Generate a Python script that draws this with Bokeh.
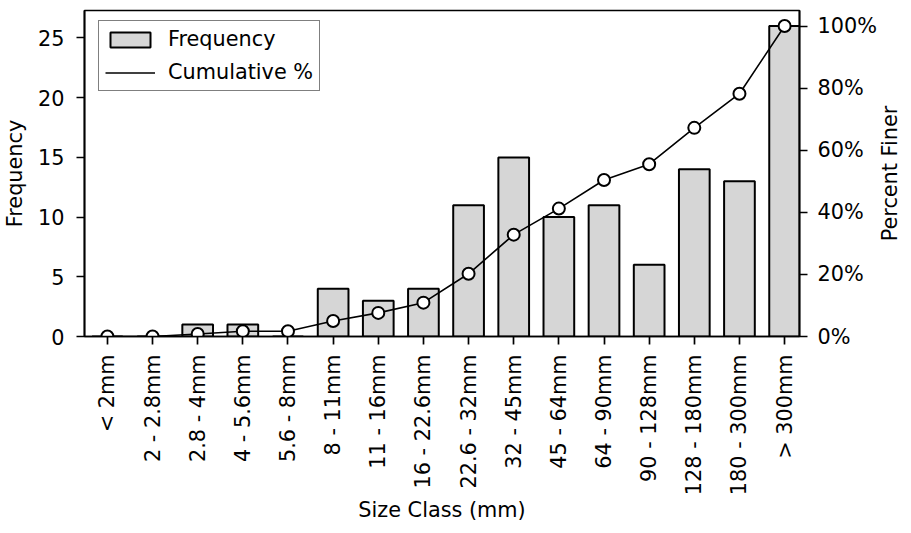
import math
from bokeh.plotting import figure
from bokeh.models import (Range1d, LinearAxis, FixedTicker, PrintfTickFormatter,
                          Legend, LegendItem, ColumnDataSource, Label)
from bokeh.embed import file_html
from bokeh.resources import INLINE

categories = ["< 2mm", "2 - 2.8mm", "2.8 - 4mm", "4 - 5.6mm", "5.6 - 8mm",
              "8 - 11mm", "11 - 16mm", "16 - 22.6mm", "22.6 - 32mm", "32 - 45mm",
              "45 - 64mm", "64 - 90mm", "90 - 128mm", "128 - 180mm",
              "180 - 300mm", "> 300mm"]
frequency = [0, 0, 1, 1, 0, 4, 3, 4, 11, 15, 10, 11, 6, 14, 13, 26]
cumulative_pct = [0, 0, 0.8, 1.7, 1.7, 5.0, 7.6, 10.9, 20.2, 32.8, 41.2,
                  50.4, 55.5, 67.2, 78.2, 100]
freq_ticks = [0, 5, 10, 15, 20, 25]
pct_ticks = [0, 20, 40, 60, 80, 100]

FONT = "DejaVu Sans"
FS = "20.8px"

positions = list(range(len(categories)))
src = ColumnDataSource(dict(x=positions, freq=frequency, cum=cumulative_pct))

p = figure(width=903, height=525, output_backend="svg", toolbar_location=None,
           x_range=Range1d(-0.507, len(categories) - 1 + 0.33),
           y_range=Range1d(0, 27.3),
           min_border_left=84, min_border_right=101, min_border_top=10,
           min_border_bottom=189)
p.extra_y_ranges = {"pct": Range1d(0, 105)}

p.grid.visible = False
p.outline_line_color = "black"
p.outline_line_width = 1.7
p.background_fill_color = "white"

bars = p.vbar(x="x", top="freq", width=0.68, source=src,
              fill_color="#d6d6d6", line_color="black", line_width=2)
ln = p.line(x="x", y="cum", source=src, y_range_name="pct",
            line_color="black", line_width=1.6)
p.scatter(x="x", y="cum", source=src, y_range_name="pct", marker="circle",
          size=12, fill_color="white", line_color="black", line_width=2)

def style_axis(ax):
    ax.major_label_text_font = FONT
    ax.major_label_text_font_size = FS
    ax.major_label_text_color = "black"
    ax.axis_label_text_font = FONT
    ax.axis_label_text_font_size = FS
    ax.axis_label_text_font_style = "normal"
    ax.axis_label_text_color = "black"
    ax.axis_line_color = "black"
    ax.axis_line_width = 1.7
    ax.major_tick_line_color = "black"
    ax.major_tick_line_width = 1.7
    ax.major_tick_in = 0
    ax.major_tick_out = 8
    ax.minor_tick_line_color = None

xa = p.xaxis[0]
style_axis(xa)
xa.ticker = FixedTicker(ticks=positions)
xa.major_label_overrides = {i: c for i, c in zip(positions, categories)}
xa.major_label_orientation = math.pi / 2
xa.major_label_standoff = 10
xa.axis_label = "Size Class (mm)"
xa.axis_label_standoff = 0

ya = p.yaxis[0]
style_axis(ya)
ya.ticker = FixedTicker(ticks=freq_ticks)
ya.major_label_standoff = 12
ya.axis_label = "Frequency"
ya.axis_label_standoff = 8

ra = LinearAxis(y_range_name="pct")
style_axis(ra)
ra.ticker = FixedTicker(ticks=pct_ticks)
ra.formatter = PrintfTickFormatter(format="%d%%")
ra.major_label_standoff = 10
p.add_layout(ra, "right")

# right-hand axis title, reading bottom-to-top like the reference
right_title = Label(x=17.33, y=52.5, y_range_name="pct", text="Percent Finer",
                    angle=math.pi / 2, text_align="center",
                    text_baseline="alphabetic", text_font=FONT,
                    text_font_size=FS, text_color="black")
p.add_layout(right_title, "right")

legend = Legend(items=[LegendItem(label="Frequency", renderers=[bars]),
                       LegendItem(label="Cumulative %", renderers=[ln])],
                location=(14, 245))
legend.margin = 0
legend.padding = 6
legend.spacing = 9
legend.glyph_width = 50
legend.glyph_height = 19
legend.label_standoff = 13
legend.label_text_font = FONT
legend.label_text_font_size = FS
legend.label_text_color = "black"
legend.border_line_color = "black"
legend.border_line_width = 1.7
legend.background_fill_color = "white"
legend.background_fill_alpha = 1.0
p.add_layout(legend, "center")

open("out.html", "w").write(file_html(p, INLINE))
